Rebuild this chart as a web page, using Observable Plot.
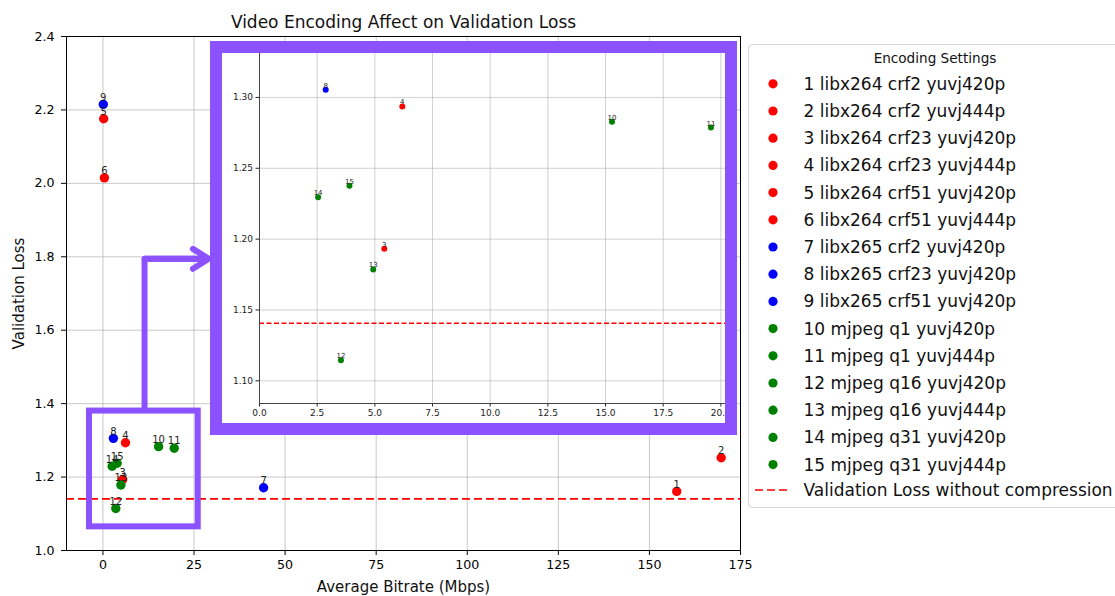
<!DOCTYPE html>
<html>
<head>
<meta charset="utf-8">
<script src="https://cdn.jsdelivr.net/npm/d3@7"></script>
<script src="https://cdn.jsdelivr.net/npm/@observablehq/plot@0.6"></script>
<style>
  html, body { margin: 0; padding: 0; background: white; }
  body { width: 1115px; height: 596px; overflow: hidden; position: relative; font-family: "DejaVu Sans", sans-serif; }
  #main { position: absolute; left: 0; top: 0; }
  #inset { position: absolute; left: 209.7px; top: 41.3px; width: 503px; height: 370px; border: 12.3px solid #8c52ff; overflow: hidden; background: white; }
  #legend { position: absolute; left: 748px; top: 44px; width: 371px; height: 462px; border: 1px solid #d6d6d6; border-radius: 4px; background: white; }
</style>
</head>
<body>
<div id="main"></div>
<div id="inset"></div>
<div id="legend"></div>
<script>
// ---- data ----
const ids = [1, 2, 3, 4, 5, 6, 7, 8, 9, 10, 11, 12, 13, 14, 15];
const settings = [
  "libx264 crf2 yuvj420p", "libx264 crf2 yuvj444p", "libx264 crf23 yuvj420p", "libx264 crf23 yuvj444p",
  "libx264 crf51 yuvj420p", "libx264 crf51 yuvj444p", "libx265 crf2 yuvj420p", "libx265 crf23 yuvj420p",
  "libx265 crf51 yuvj420p", "mjpeg q1 yuvj420p", "mjpeg q1 yuvj444p", "mjpeg q16 yuvj420p",
  "mjpeg q16 yuvj444p", "mjpeg q31 yuvj420p", "mjpeg q31 yuvj444p"
];
const bitrate = [157.5, 169.7, 5.41, 6.19, 0.2, 0.4, 44.1, 2.87, 0.1, 15.28, 19.57, 3.53, 4.93, 2.54, 3.90];
const loss = [1.161, 1.2525, 1.1932, 1.2936, 2.176, 2.015, 1.171, 1.3055, 2.215, 1.2828, 1.2787, 1.1146, 1.1786, 1.2295, 1.2376];
const baselineLoss = 1.1406;
const codecs = ["libx264", "libx265", "mjpeg"];
const codecColors = ["red", "blue", "green"];
const xTicks = [0, 25, 50, 75, 100, 125, 150, 175];
const yTicks = [1.0, 1.2, 1.4, 1.6, 1.8, 2.0, 2.2, 2.4];
const insetXTicks = [0, 2.5, 5, 7.5, 10, 12.5, 15, 17.5, 20];
const insetYTicks = [1.10, 1.15, 1.20, 1.25, 1.30];
const title = "Video Encoding Affect on Validation Loss";
const xLabel = "Average Bitrate (Mbps)";
const yLabel = "Validation Loss";
const legendTitle = "Encoding Settings";
const baselineLabel = "Validation Loss without compression";
// zoom annotation (in data units of the main chart)
const zoomBox = {x1: -3.68, x2: 26.16, y1: 1.0644, y2: 1.3798};
const connector = [{x: 11.42, y: 1.3798}, {x: 11.42, y: 1.7945}, {x: 29.07, y: 1.7945}];
const insetXDomain = [0, 20.2];
const insetYDomain = [1.084, 1.331];

const rows = ids.map((id, i) => ({
  id, setting: settings[i], codec: settings[i].split(" ")[0], bitrate: bitrate[i], loss: loss[i]
}));
const colorOf = c => codecColors[codecs.indexOf(c)];
const purple = "#8c52ff";
const font = "'DejaVu Sans', sans-serif";

// ---- main chart ----
const main = Plot.plot({
  width: 745, height: 596,
  marginLeft: 66, marginRight: 5, marginTop: 36, marginBottom: 46,
  style: {fontFamily: font, fontSize: "12.6px", color: "black", background: "transparent", overflow: "visible"},
  x: {domain: [-10, 175], ticks: xTicks, tickSize: 5, tickPadding: 5, label: null},
  y: {domain: [1.0, 2.4], ticks: yTicks, tickFormat: d3.format(".1f"), tickSize: 5, tickPadding: 7, label: null},
  color: {domain: codecs, range: codecColors},
  marks: [
    Plot.gridX(xTicks, {stroke: "#b0b0b0", strokeOpacity: 0.7, strokeWidth: 1}),
    Plot.gridY(yTicks, {stroke: "#b0b0b0", strokeOpacity: 0.7, strokeWidth: 1}),
    Plot.ruleY([baselineLoss], {stroke: "red", strokeWidth: 1.6, strokeDasharray: "8,4"}),
    Plot.dot(rows, {x: "bitrate", y: "loss", fill: "codec", r: 4.7}),
    Plot.text(rows, {x: "bitrate", y: "loss", text: "id", dy: -3.7, lineAnchor: "bottom", fontSize: 10, fill: "#222"}),
    Plot.rect([zoomBox], {x1: "x1", x2: "x2", y1: "y1", y2: "y2", fill: "none", stroke: purple, strokeWidth: 6}),
    Plot.line(connector, {x: "x", y: "y", stroke: purple, strokeWidth: 6, strokeLinejoin: "miter", strokeLinecap: "butt"}),
    Plot.arrow([{x1: connector[1].x, y1: connector[1].y, x2: connector[2].x, y2: connector[2].y}],
      {x1: "x1", y1: "y1", x2: "x2", y2: "y2", stroke: purple, strokeWidth: 6, headLength: 4.7, headAngle: 64}),
    Plot.frame({stroke: "black", strokeWidth: 1}),
    Plot.text([title], {frameAnchor: "top", dy: -9, lineAnchor: "bottom", fontSize: 17, fill: "#111"}),
    Plot.text([xLabel], {frameAnchor: "bottom", dy: 37, lineAnchor: "middle", fontSize: 15, fill: "#111"}),
    Plot.text([yLabel], {frameAnchor: "left", dx: -47, rotate: -90, lineAnchor: "middle", textAnchor: "middle", fontSize: 15, fill: "#111"})
  ]
});
document.getElementById("main").appendChild(main);

// ---- inset chart ----
const insetRows = rows.filter(d => d.bitrate >= insetXDomain[0] && d.bitrate <= insetXDomain[1] && d.loss >= insetYDomain[0] && d.loss <= insetYDomain[1]);
const inset = Plot.plot({
  width: 503, height: 370,
  marginLeft: 37, marginRight: 0, marginTop: 0, marginBottom: 20,
  style: {fontFamily: font, fontSize: "9px", color: "#222", background: "white"},
  x: {domain: insetXDomain, ticks: insetXTicks, tickFormat: d3.format(".1f"), tickSize: 3.5, tickPadding: 2.5, label: null},
  y: {domain: insetYDomain, ticks: insetYTicks, tickFormat: d3.format(".2f"), tickSize: 3.5, tickPadding: 3, label: null},
  color: {domain: codecs, range: codecColors},
  marks: [
    Plot.gridX(insetXTicks, {stroke: "#b0b0b0", strokeOpacity: 0.6}),
    Plot.gridY(insetYTicks, {stroke: "#b0b0b0", strokeOpacity: 0.6}),
    Plot.ruleY([baselineLoss], {stroke: "#ff0000", strokeWidth: 1.6, strokeDasharray: "5,2.5"}),
    Plot.dot(insetRows, {x: "bitrate", y: "loss", fill: "codec", r: 3}),
    Plot.text(insetRows, {x: "bitrate", y: "loss", text: "id", dy: -2, lineAnchor: "bottom", fontSize: 7, fill: "#222"}),
    Plot.axisX({ticks: insetXTicks, tickFormat: d3.format(".1f"), tickSize: 3.5, tickPadding: 2.5, label: null}),
    Plot.axisY({ticks: insetYTicks, tickFormat: d3.format(".2f"), tickSize: 3.5, tickPadding: 3, label: null}),
    Plot.ruleX([insetXDomain[0]], {stroke: "#444", strokeWidth: 1}),
    Plot.ruleY([insetYDomain[0]], {stroke: "#444", strokeWidth: 1})
  ]
});
document.getElementById("inset").appendChild(inset);

// ---- legend ----
const lg = d3.select("#legend").append("svg").attr("width", 371).attr("height", 462)
  .style("font-family", font).style("display", "block");
lg.append("text").attr("x", 186).attr("y", 13.3).attr("dy", "0.35em").attr("text-anchor", "middle")
  .attr("font-size", 13.6).attr("fill", "#111").text(legendTitle);
rows.forEach((d, i) => {
  const cy = 38.8 + 27.2 * i;
  lg.append("circle").attr("cx", 24).attr("cy", cy).attr("r", 4.6).attr("fill", colorOf(d.codec));
  lg.append("text").attr("x", 54.5).attr("y", cy).attr("dy", "0.35em").attr("font-size", 17).attr("fill", "#111")
    .text(d.id + " " + d.setting);
});
const cyB = 445;
lg.append("line").attr("x1", 6).attr("x2", 38).attr("y1", cyB).attr("y2", cyB)
  .attr("stroke", "red").attr("stroke-width", 1.6).attr("stroke-dasharray", "8,4");
lg.append("text").attr("x", 54.5).attr("y", cyB).attr("dy", "0.35em").attr("font-size", 17).attr("fill", "#111").text(baselineLabel);
</script>
</body>
</html>
